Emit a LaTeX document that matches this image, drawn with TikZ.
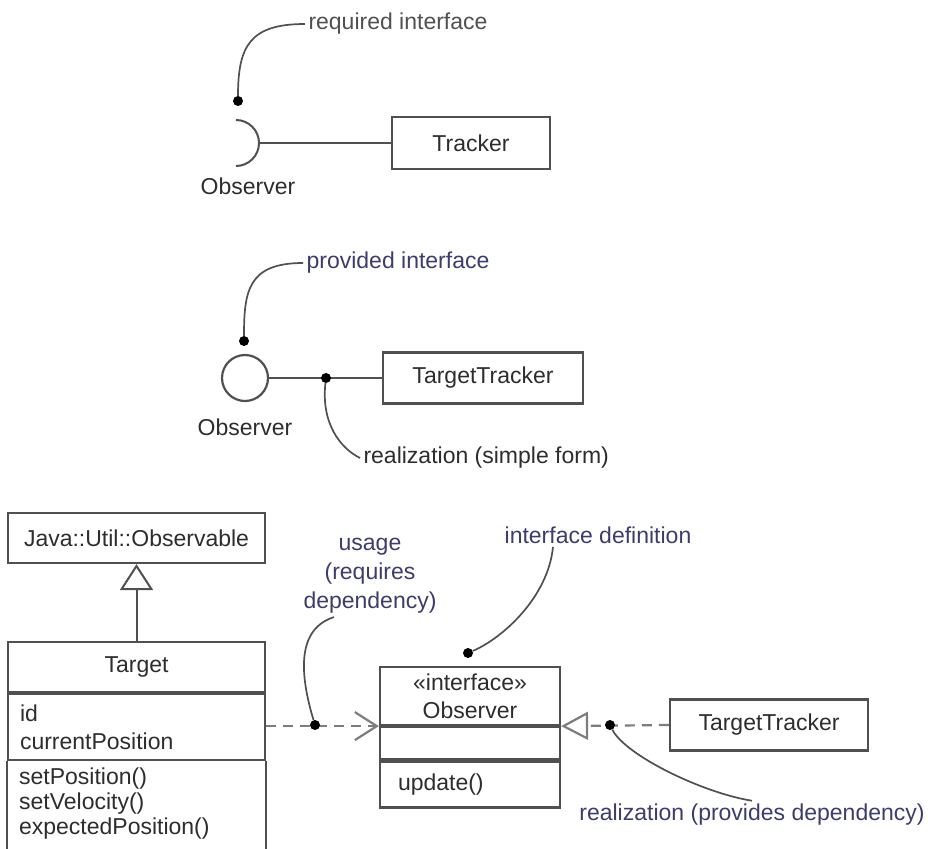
\documentclass[tikz,border=0pt]{standalone}
\usepackage{fontspec}
\setmainfont{Liberation Sans}
\usetikzlibrary{arrows.meta,positioning}
\definecolor{inkgray}{RGB}{45,45,45}
\definecolor{linegray}{RGB}{80,80,80}
\definecolor{dashgray}{RGB}{125,125,125}
\definecolor{notenavy}{RGB}{62,60,105}

\begin{document}
\begin{tikzpicture}[x=1pt,y=1pt,font=\fontsize{23}{28}\selectfont,text=inkgray]
\tikzset{umlbox/.style={draw=linegray, line width=2.2pt, inner sep=0pt},
  umlline/.style={draw=linegray, line width=2pt},
  pindot/.style={circle, fill=black, inner sep=0pt, minimum size=10pt},
  leader/.style={draw=linegray, line width=1.7pt},
  depline/.style={draw=dashgray, line width=2.2pt, dash pattern=on 10pt off 7pt},
  note/.style={text=notenavy}}
\useasboundingbox (0,0) rectangle (928,-848);
\clip (0,0) rectangle (928,-848);

% required interface: socket on Tracker
\node[umlbox, minimum width=158pt, minimum height=52pt] (tracker) at (471,-143) {Tracker};
\coordinate (sock) at (236,-143);
\draw[umlline] ([yshift=23pt]sock) arc[start angle=90, end angle=-90, radius=23pt];
\coordinate (sockR) at ([xshift=23pt]sock);
\draw[umlline] (sockR) -- (tracker.west);
\node (obsReq) at (248,-186) {Observer};
\node[text=linegray] (reqNote) at (398,-24) {required interface};
\node[pindot] (dotReq) at (238,-101) {};
\draw[leader] (reqNote.west) .. controls +(-55,0) and +(0,55) .. (dotReq);

% provided interface: lollipop on TargetTracker
\node[umlbox, minimum width=200pt, minimum height=51pt] (ttSimple) at (483,-378) {TargetTracker};
\node[umlbox, circle, minimum size=46pt] (lolly) at (245,-378) {};
\draw[umlline] (lolly.east) -- (ttSimple.west);
\node[pindot] (dotReal) at (326,-378) {};
\node (obsProv) at (245,-427) {Observer};
\node[note] (provNote) at (398,-263) {provided interface};
\node[pindot] (dotProv) at (244,-341) {};
\draw[leader] (provNote.west) .. controls +(-55,0) and +(0,50) .. (dotProv);
\node[anchor=west] (simpleNote) at (360,-458) {realization (simple form)};
\draw[leader] (dotReal) .. controls +(-5,-45) and +(-20,10) .. (simpleNote.west);

% full form: classes and dependencies
\node[umlbox, minimum width=257pt, minimum height=50pt] (observable) at (136.5,-538) {Java::Util::Observable};
\node[umlbox, minimum width=257pt, minimum height=50pt] (target) at (136.5,-667) {Target};
\node[umlbox, minimum width=257pt, minimum height=66pt, text width=233pt, inner xsep=12pt, align=left, below=0pt of target] (targetAttr) {id\\currentPosition};
\node[anchor=north west, align=left, inner xsep=12pt, inner ysep=6pt, font=\fontsize{23}{25}\selectfont] (targetOps) at (targetAttr.south west) {setPosition()\\setVelocity()\\expectedPosition()};
\draw[umlbox] (targetAttr.south west) -- ++(0,-120) (targetAttr.south east) -- ++(0,-120);
\draw[umlline, -{Triangle[open, length=26pt, width=33pt, fill=white]}] (target.north) -- (observable.south);

\node[umlbox, minimum width=180pt, minimum height=58pt, align=center] (iface) at (470,-696) {«interface»\\Observer};
\node[umlbox, minimum width=180pt, minimum height=32pt, below=0pt of iface] (ifaceAttr) {};
\node[umlbox, minimum width=180pt, minimum height=46pt, text width=144pt, inner xsep=18pt, align=left, below=0pt of ifaceAttr] (ifaceOps) {update()};
\node[umlbox, minimum width=198pt, minimum height=51pt] (ttDep) at (769,-725) {TargetTracker};

\draw[depline, -{Straight Barb[length=22pt, width=28pt]}] (targetAttr.east |- iface.south) -- (iface.south west);
\draw[depline, -{Triangle[open, length=27pt, width=28pt, fill=white]}] (ttDep.west) -- (iface.south east);

\node[pindot] (dotUse) at (315,-725) {};
\node[note, align=center, font=\fontsize{23}{29}\selectfont] (useNote) at (370,-576) {usage\\(requires\\dependency)};
\draw[leader] ([xshift=-36pt]useNote.south) .. controls +(-38,-12) and +(-15,50) .. (dotUse);

\node[note] (defNote) at (598,-535) {interface definition};
\node[pindot] (dotDef) at (468,-653) {};
\draw[leader] ([xshift=-45pt]defNote.south) .. controls +(-5,-50) and +(35,15) .. (dotDef);

\node[pindot] (dotDep) at (610,-725) {};
\node[note] (depNote) at (752,-815) {realization (provides dependency)};
\draw[leader] (dotDep) .. controls +(15,-30) and +(-50,8) .. (depNote.north);
\end{tikzpicture}
\end{document}
